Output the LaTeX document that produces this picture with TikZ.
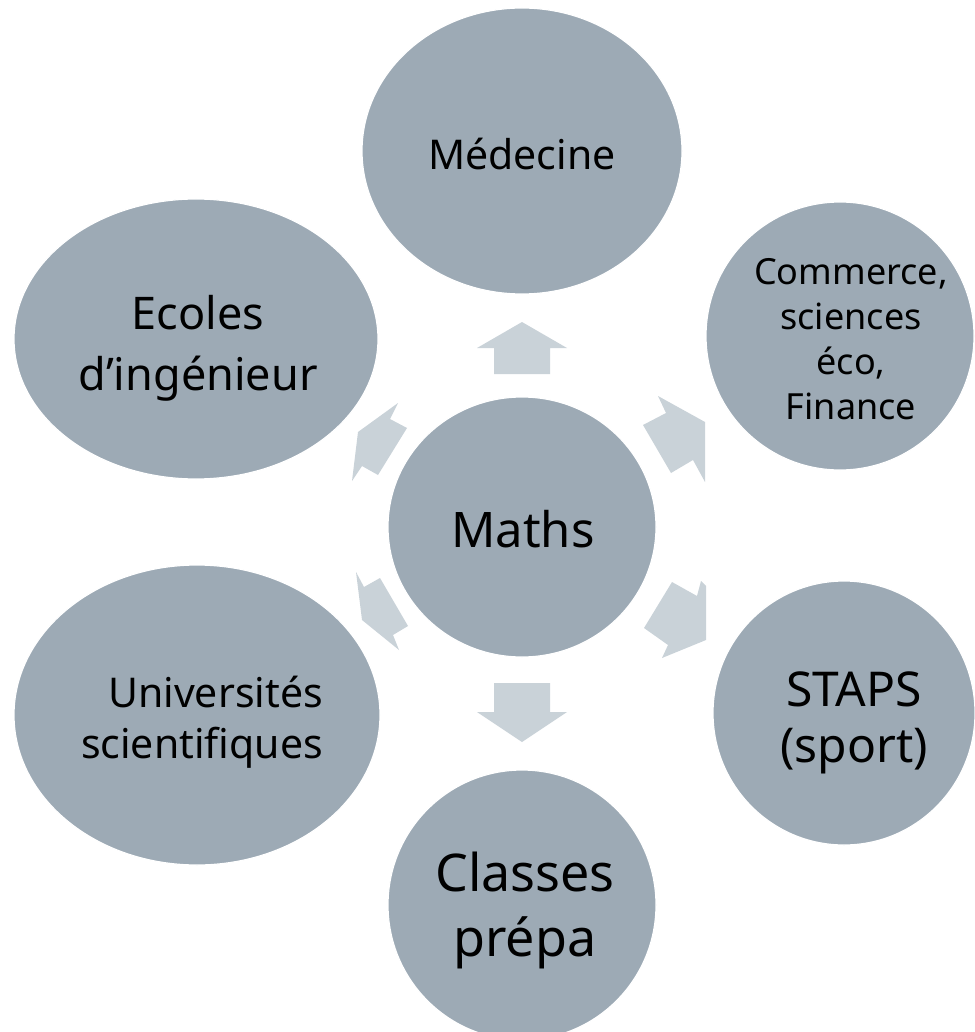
\documentclass[tikz,border=0pt]{standalone}
\usepackage{fontspec}
\setmainfont{Noto Sans}
\usetikzlibrary{shapes.geometric}
\definecolor{blobfill}{HTML}{9DAAB5}
\definecolor{arrowfill}{HTML}{C9D2D8}
\begin{document}
\begin{tikzpicture}[x=1pt,y=-1pt,
  blob/.style={ellipse, fill=blobfill, draw=white, line width=1.2pt, inner sep=0pt},
  lbl/.style={align=center, anchor=base, text=black, inner sep=0pt},
  blockarrow/.style={fill=arrowfill, draw=none}]
\useasboundingbox (0,0) rectangle (974,1032);
% circles
\node[blob, minimum width=320pt, minimum height=286pt] (med) at (522,151) {};
\node[blob, minimum width=364pt, minimum height=280pt] (eco) at (196,339) {};
\node[blob, minimum width=366pt, minimum height=300pt] (uni) at (197,715) {};
\node[blob, minimum width=268pt, minimum height=268pt] (com) at (840,336) {};
\node[blob, minimum width=262pt, minimum height=264pt] (sta) at (844,713) {};
\node[blob, minimum width=268pt, minimum height=260pt] (mat) at (522,527) {};
\node[blob, minimum width=268pt, minimum height=270pt] (cla) at (522,905) {};
% labels (anchor = baseline of the last line)
\node[lbl, font=\fontsize{41}{54}\selectfont] (medt) at (522,170) {Médecine};
\node[lbl, font=\fontsize{45}{61}\selectfont] (ecot) at (198,390) {Ecoles\\d’ingénieur};
\node[lbl, font=\fontsize{49}{64}\selectfont] (matt) at (523,547) {Maths};
\node[lbl, font=\fontsize{36}{45}\selectfont] (comt) at (851,419) {Commerce,\\sciences\\éco,\\Finance};
\node[lbl, font=\fontsize{48}{56}\selectfont] (stat) at (854,762) {STAPS\\(sport)};
\node[lbl, align=right, anchor=base east, font=\fontsize{41}{51}\selectfont] (unit) at (323,758) {Universités\\scientifiques};
\node[lbl, font=\fontsize{52}{65}\selectfont] (clat) at (525,956) {Classes\\prépa};
% block arrows
\fill[blockarrow] (522,322) -- (567,348) -- (550,348) -- (550,374) -- (494,374) -- (494,348) -- (477,348) -- cycle;
\fill[blockarrow] (494,683) -- (550,683) -- (550,712) -- (567,712) -- (522,742) -- (477,712) -- (494,712) -- cycle;
\fill[blockarrow] (658,396) -- (705,422) -- (705,482) -- (693,460) -- (671,473) -- (643,425) -- (666,413) -- cycle;
\fill[blockarrow] (672,582) -- (697,596) -- (701,581) -- (706,586) -- (706,640) -- (662,658) -- (668,645) -- (644,628) -- cycle;
\fill[blockarrow] (398,403) -- (390,419) -- (407,428) -- (378,475) -- (362,466) -- (352,481) -- (358,432) -- cycle;
\fill[blockarrow] (356,572) -- (364,587) -- (380,578) -- (408,626) -- (393,635) -- (399,650) -- (362,620) -- cycle;
\end{tikzpicture}
\end{document}
